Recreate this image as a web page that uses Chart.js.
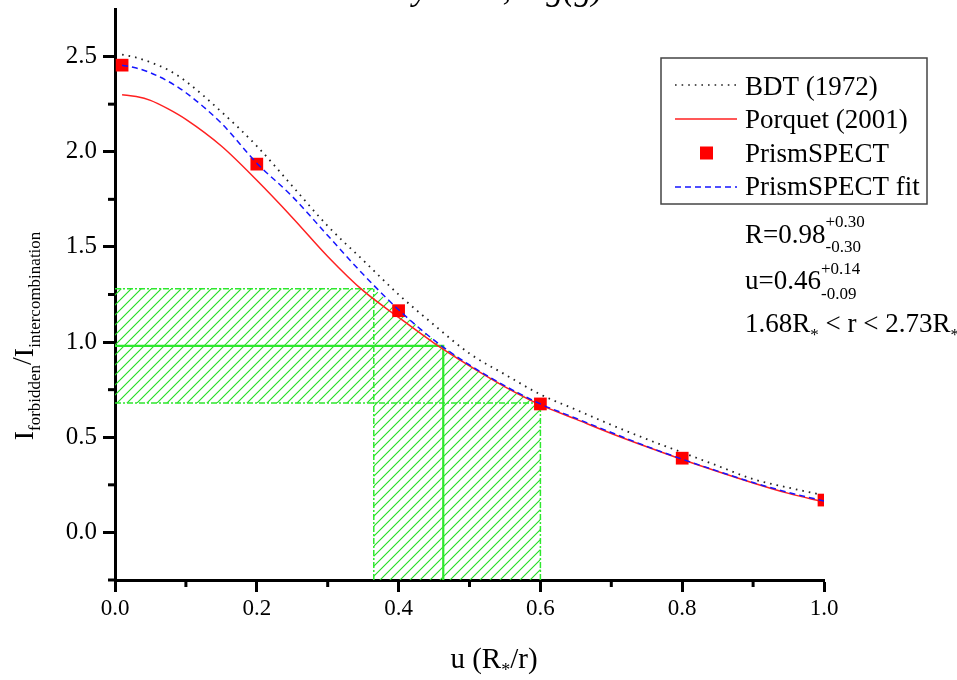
<!DOCTYPE html>
<html>
<head>
<meta charset="utf-8">
<script src="https://cdn.jsdelivr.net/npm/chart.js@4.4.1/dist/chart.umd.min.js"></script>
<style>
  html, body { margin: 0; padding: 0; background: #fff; }
</style>
</head>
<body>
<canvas id="c" width="957" height="680"></canvas>
<script>
// curves, same u grid for all three
var uGrid   = [0.01, 0.03, 0.05, 0.075, 0.10, 0.15, 0.20, 0.25, 0.30, 0.35, 0.40, 0.45, 0.50, 0.55, 0.60, 0.65, 0.70, 0.75, 0.80, 0.85, 0.90, 0.95, 1.00];
var bdt     = [2.51, 2.495, 2.47, 2.43, 2.37, 2.21, 2.03, 1.82, 1.61, 1.43, 1.25, 1.09, 0.94, 0.83, 0.725, 0.645, 0.565, 0.49, 0.42, 0.35, 0.28, 0.235, 0.195];
var porquet = [2.30, 2.29, 2.27, 2.225, 2.17, 2.03, 1.85, 1.655, 1.45, 1.27, 1.13, 0.995, 0.875, 0.765, 0.67, 0.595, 0.52, 0.45, 0.383, 0.32, 0.26, 0.205, 0.16];
var psFit   = [2.455, 2.44, 2.415, 2.37, 2.31, 2.15, 1.94, 1.765, 1.56, 1.356, 1.17, 1.01, 0.88, 0.77, 0.675, 0.6, 0.525, 0.452, 0.385, 0.322, 0.262, 0.21, 0.165];

var psU = [0.01, 0.2, 0.4, 0.6, 0.8, 1.0];
var psR = [2.455, 1.935, 1.165, 0.675, 0.39, 0.17];

// best value and error range
var rBest = 0.98, rLow = 0.68, rHigh = 1.28;
var uBest = 0.463, uLow = 0.365, uHigh = 0.60;

var xTicks = [0, 0.2, 0.4, 0.6, 0.8, 1.0];
var yTicks = [0, 0.5, 1.0, 1.5, 2.0, 2.5];
var xMinor = [0.1, 0.3, 0.5, 0.7, 0.9];
var yMinor = [-0.25, 0.25, 0.75, 1.25, 1.75, 2.25];

var labels = ['BDT (1972)', 'Porquet (2001)', 'PrismSPECT', 'PrismSPECT fit'];
var titleText = 'Intensity ratio, log(g)';

var yMin = -0.25, yMax = 2.75;
var SERIF = '"Liberation Serif", "Times New Roman", serif';

function pts(xs, ys) {
  var out = [];
  for (var i = 0; i < xs.length; i++) out.push({x: xs[i], y: ys[i]});
  return out;
}

// hatched error region: band in R, band in u, cut by the fit curve
var hatchShape = [{x: 0, y: rHigh}, {x: uLow, y: rHigh}];
for (var i = 0; i < uGrid.length; i++) {
  if (uGrid[i] > uLow && uGrid[i] <= uHigh) hatchShape.push({x: uGrid[i], y: psFit[i]});
}
hatchShape.push({x: uHigh, y: yMin}, {x: uLow, y: yMin}, {x: uLow, y: rLow}, {x: 0, y: rLow}, {x: 0, y: rHigh});

var canvas = document.getElementById('c');
var ctx = canvas.getContext('2d');

function hatch() {
  var p = document.createElement('canvas');
  p.width = 10; p.height = 10;
  var g = p.getContext('2d');
  g.strokeStyle = '#22dd22';
  g.lineWidth = 1.1;
  g.beginPath();
  g.moveTo(-1, 11); g.lineTo(11, -1);
  g.moveTo(-1, 1); g.lineTo(1, -1);
  g.moveTo(9, 11); g.lineTo(11, 9);
  g.stroke();
  return ctx.createPattern(p, 'repeat');
}

var GREEN = '#2ee82e';
function greenDash(data) {
  return {label: '', data: data, showLine: true, pointRadius: 0, borderColor: GREEN,
          borderWidth: 1.5, borderDash: [6, 2, 2, 2], fill: false};
}

function runs(c, x, y, parts) {
  parts.forEach(function (p) {
    c.font = p.f;
    c.fillText(p.t, x, y + (p.dy || 0));
    x += c.measureText(p.t).width;
  });
  return x;
}
function runsWidth(c, parts) {
  var w = 0;
  parts.forEach(function (p) { c.font = p.f; w += c.measureText(p.t).width; });
  return w;
}

var big = '27px ' + SERIF, mid = '17px ' + SERIF;

var deco = {
  id: 'deco',
  afterDraw: function (chart) {
    var c = chart.ctx, xs = chart.scales.x, ys = chart.scales.y;
    var a = chart.chartArea;
    c.save();
    c.fillStyle = '#000';
    c.strokeStyle = '#000';

    // minor ticks
    c.lineWidth = 3;
    yMinor.forEach(function (v) {
      var y = ys.getPixelForValue(v);
      c.beginPath(); c.moveTo(a.left - 7, y); c.lineTo(a.left, y); c.stroke();
    });
    xMinor.forEach(function (v) {
      var x = xs.getPixelForValue(v);
      c.beginPath(); c.moveTo(x, a.bottom); c.lineTo(x, a.bottom + 7); c.stroke();
    });

    // cut-off title at the top
    c.font = 'italic 34px ' + SERIF;
    c.textBaseline = 'alphabetic';
    c.fillText(titleText, 311, 0);

    // legend box
    c.lineWidth = 1.5;
    c.strokeStyle = '#444';
    c.strokeRect(661, 58, 266, 146);
    var ds = chart.data.datasets;
    var rows = [ds[3], ds[2], ds[1], ds[0]];
    var lineY = [85, 119, 153, 187], textY = [95, 128, 162, 195];
    rows.forEach(function (d, i) {
      if (d.showLine) {
        c.strokeStyle = d.borderColor;
        c.lineWidth = 1.5;
        c.setLineDash(d.borderDash || []);
        c.beginPath(); c.moveTo(675, lineY[i]); c.lineTo(737, lineY[i]); c.stroke();
        c.setLineDash([]);
      } else {
        c.fillStyle = d.backgroundColor;
        c.fillRect(700, lineY[i] - 6.5, 13, 13);
      }
      c.fillStyle = '#000';
      c.font = big;
      c.fillText(labels[i], 745, textY[i]);
    });

    // fit result text
    var x1 = runs(c, 745, 243, [{t: 'R=0.98', f: big}]);
    runs(c, x1, 227, [{t: '+0.30', f: mid}]);
    runs(c, x1, 252, [{t: '-0.30', f: mid}]);
    var x2 = runs(c, 745, 289, [{t: 'u=0.46', f: big}]);
    runs(c, x2, 274, [{t: '+0.14', f: mid}]);
    runs(c, x2, 299, [{t: '-0.09', f: mid}]);
    runs(c, 745, 332, [
      {t: '1.68R', f: big}, {t: '*', f: mid, dy: 8},
      {t: ' < r < 2.73R', f: big}, {t: '*', f: mid, dy: 8}
    ]);

    // x axis title
    var xbig = '29px ' + SERIF;
    var xt = [{t: 'u (R', f: xbig}, {t: '*', f: '18px ' + SERIF, dy: 8}, {t: '/r)', f: xbig}];
    runs(c, 494 - runsWidth(c, xt) / 2, 668, xt);

    // y axis title
    var ybig = '28px ' + SERIF, ysub = '17px ' + SERIF;
    var yt = [
      {t: 'I', f: ybig}, {t: 'forbidden', f: ysub, dy: 7},
      {t: '/', f: ybig, dy: -2}, {t: 'I', f: ybig}, {t: 'intercombination', f: ysub, dy: 7}
    ];
    c.translate(33, 336);
    c.rotate(-Math.PI / 2);
    runs(c, -runsWidth(c, yt) / 2, 0, yt);
    c.restore();
  }
};

function fixTicks(vals) {
  return function (s) { s.ticks = vals.map(function (v) { return {value: v}; }); };
}

new Chart(canvas, {
  type: 'scatter',
  data: {
    datasets: [
      {label: labels[3], data: pts(uGrid, psFit), showLine: true, pointRadius: 0,
       borderColor: '#1515ff', borderWidth: 1.5, borderDash: [6, 4], cubicInterpolationMode: 'monotone'},
      {label: labels[2], data: pts(psU, psR), showLine: false, pointStyle: 'rect',
       pointRadius: 9, backgroundColor: '#ff0000', borderColor: '#ff0000', borderWidth: 0},
      {label: labels[1], data: pts(uGrid, porquet), showLine: true, pointRadius: 0,
       borderColor: '#ff2020', borderWidth: 1.5, cubicInterpolationMode: 'monotone'},
      {label: labels[0], data: pts(uGrid, bdt), showLine: true, pointRadius: 0,
       borderColor: '#222', borderWidth: 1.8, borderDash: [1.6, 5], cubicInterpolationMode: 'monotone'},
      {label: '', data: [{x: 0, y: rBest}, {x: uBest, y: rBest}, {x: uBest, y: yMin}],
       showLine: true, pointRadius: 0, borderColor: GREEN, borderWidth: 2.2, fill: false},
      greenDash([{x: 0, y: rHigh}, {x: uLow, y: rHigh}]),
      greenDash([{x: uLow, y: yMin}, {x: uLow, y: rHigh}]),
      greenDash([{x: 0, y: rLow}, {x: uHigh, y: rLow}]),
      greenDash([{x: uHigh, y: yMin}, {x: uHigh, y: rLow}]),
      {label: '', data: hatchShape, showLine: true, pointRadius: 0, borderWidth: 0,
       borderColor: 'rgba(0,0,0,0)', backgroundColor: hatch(), fill: 'shape', tension: 0}
    ]
  },
  options: {
    responsive: false,
    animation: false,
    layout: {padding: {top: 8, right: 133, bottom: 0, left: 0}},
    plugins: {legend: {display: false}, tooltip: {enabled: false}},
    scales: {
      x: {
        type: 'linear', min: 0, max: 1,
        border: {color: '#000', width: 3},
        grid: {drawOnChartArea: false, tickLength: 12, tickWidth: 3, tickColor: '#000'},
        ticks: {color: '#000', font: {family: SERIF, size: 23}, padding: 3, maxRotation: 0, autoSkip: false,
                callback: function (v) { return v.toFixed(1); }},
        afterBuildTicks: fixTicks(xTicks),
        afterFit: function (s) { s.height = 100; s.paddingLeft = 0; s.paddingRight = 0; }
      },
      y: {
        type: 'linear', min: yMin, max: yMax,
        border: {color: '#000', width: 3},
        grid: {drawOnChartArea: false, tickLength: 12, tickWidth: 3, tickColor: '#000'},
        ticks: {color: '#000', font: {family: SERIF, size: 25}, padding: 6,
                callback: function (v) { return v.toFixed(1); }},
        afterBuildTicks: fixTicks(yTicks),
        afterFit: function (s) { s.width = 115; s.paddingTop = 0; s.paddingBottom = 0; }
      }
    }
  },
  plugins: [deco]
});
</script>
</body>
</html>
